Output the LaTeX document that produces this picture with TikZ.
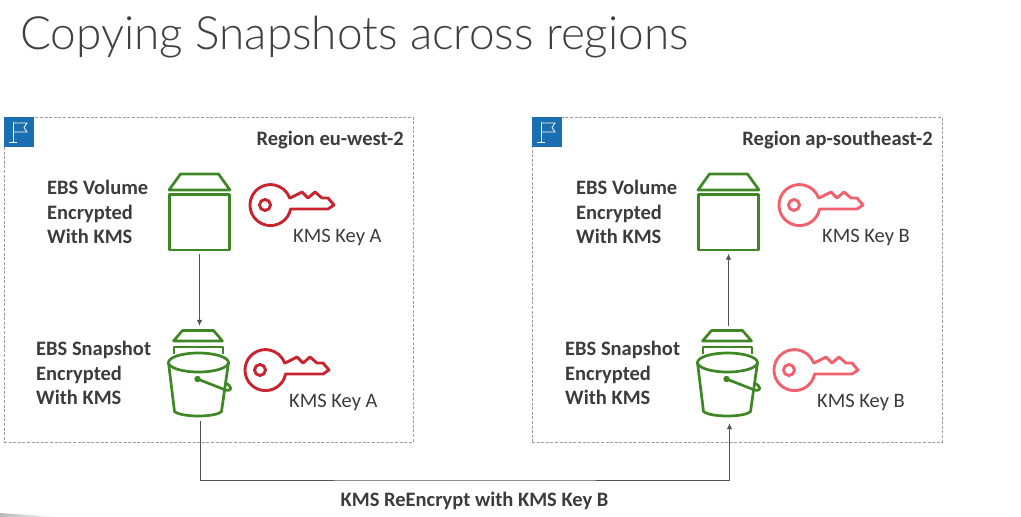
\documentclass[tikz,border=0pt]{standalone}
\usepackage{fontspec}
\setmainfont{Carlito}
\newfontfamily\titlefont{Lato Light}
\usetikzlibrary{arrows.meta}
\definecolor{txt}{HTML}{3C3C3C}
\definecolor{awsgreen}{HTML}{3F8624}
\definecolor{keyred}{HTML}{C7242F}
\definecolor{keypink}{HTML}{F0616D}
\definecolor{flagblue}{HTML}{1A6FB0}
\tikzset{
  regionbox/.style={draw=black!38,dashed,dash pattern=on 3pt off 1.6pt,line width=0.8pt,fill=white,inner sep=0pt},
  flagbox/.style={fill=flagblue,inner sep=0pt,minimum width=30pt,minimum height=30pt},
  iconbox/.style={inner sep=0pt,minimum width=62pt},
  lbl/.style={font=\fontsize{20.5}{24.5}\selectfont,text=txt,inner sep=0pt},
  blbl/.style={lbl,font=\fontsize{20.5}{24.5}\selectfont\bfseries,align=left},
  conn/.style={draw=black!68,line width=0.8pt,-{Latex[length=6pt,width=5.5pt]}},
  flagpic/.pic={
    \draw[white,line width=0.7pt] (-6,-10)--(-6,10) (-10,10)--(-2,10);
    \draw[white,line width=0.7pt] (-6,-9)--(8,-9)--(5,-4.5)--(8,0)--(-6,0);
  },
  keypic/.pic={
    \draw[line width=2.9pt,line join=round,pic actions]
      (25.6,4) arc[start angle=11,end angle=340,radius=20.5]
      -- (25,-7)--(37,-13)--(43,-7)--(50,-13)--(57,-7)--(63,-7)--(69,0)--(63,4)--cycle;
    \draw[line width=2.9pt,pic actions] (0,0) circle[radius=5.5];
  },
  volpic/.pic={
    \draw[awsgreen,line width=2.7pt,line join=round]
      (-30.5,-22)--(-19,-38)--(19,-38)--(30.5,-22)--cycle;
    \draw[awsgreen,line width=2.7pt,line join=round] (-30,-17.5) rectangle (30,38);
  },
  snappic/.pic={
    \draw[awsgreen,line width=2.7pt,line join=round]
      (-26,-32.5)--(-17,-43)--(14,-43)--(23,-32.5)--cycle;
    \draw[awsgreen,line width=2.7pt,line join=round]
      (-25.5,-20)--(-25.5,-26.5)--(23.5,-26.5)--(23.5,-20);
    \filldraw[awsgreen,fill=white,line width=2.7pt] (-1,-11) ellipse[x radius=30,y radius=9.5];
    \draw[awsgreen,line width=2.7pt,line join=round]
      (-31,-11)--(-25,38) .. controls (-18,44) and (16,44) .. (22,38)--(29,-11);
    \fill[awsgreen] (-2,5.5) circle[radius=3.2];
    \draw[awsgreen,line width=2.7pt,line join=round]
      (-2,5.5)--(26,16.5) .. controls (33,18) and (33,13) .. (26,9.5);
  }
}
\begin{document}
\begin{tikzpicture}[x=1pt,y=-1pt]
\useasboundingbox (0,0) rectangle (1021,517);
\fill[white] (0,0) rectangle (1021,517);
\shade[left color=black!28,right color=white] (0,513) -- (60,517) -- (0,517) -- cycle;
\node[anchor=base west,inner sep=0pt,text=black!75,font=\titlefont\fontsize{45.9}{50}\selectfont] (title) at (20,49) {Copying Snapshots across regions};

% regions
\node[regionbox,minimum width=409pt,minimum height=325pt] (regA) at (208.5,279.5) {};
\node[regionbox,minimum width=410pt,minimum height=325pt] (regB) at (737,279.5) {};
\node[flagbox] (flagA) at (19,132) {};
\node[flagbox] (flagB) at (547,132) {};
\pic at (flagA.center) {flagpic};
\pic at (flagB.center) {flagpic};
\node[blbl,anchor=base east] (nameA) at (404,145) {Region eu-west-2};
\node[blbl,anchor=base east] (nameB) at (933,145) {Region ap-southeast-2};

% texts
\node[blbl,anchor=west] (tvA) at (47,212) {EBS Volume\\Encrypted\\With KMS};
\node[blbl,anchor=west] (tsA) at (36,373) {EBS Snapshot\\Encrypted\\With KMS};
\node[blbl,anchor=west] (tvB) at (576,212) {EBS Volume\\Encrypted\\With KMS};
\node[blbl,anchor=west] (tsB) at (565,373) {EBS Snapshot\\Encrypted\\With KMS};

% icons
\node[iconbox,minimum height=79pt] (volA) at (199.5,212) {};
\node[iconbox,minimum height=89pt] (snapA) at (199.5,373.5) {};
\node[iconbox,minimum height=79pt] (volB) at (728.5,212) {};
\node[iconbox,minimum height=89pt] (snapB) at (728.5,373.5) {};
\pic at (volA.center) {volpic};
\pic at (volB.center) {volpic};
\pic at (snapA.center) {snappic};
\pic at (snapB.center) {snappic};

\pic[keyred] at (265,205) {keypic};
\pic[keyred] at (260,370) {keypic};
\pic[keypink] at (794,205) {keypic};
\pic[keypink] at (789,370) {keypic};

\node[lbl,anchor=base west] (kA1) at (293,242) {KMS Key A};
\node[lbl,anchor=base west] (kA2) at (289,407) {KMS Key A};
\node[lbl,anchor=base west] (kB1) at (822,242) {KMS Key B};
\node[lbl,anchor=base west] (kB2) at (817,407) {KMS Key B};

% connectors
\draw[conn] ([yshift=-2pt]volA.south) -- ([yshift=3pt]snapA.north);
\draw[conn] ([yshift=3pt]snapB.north) -- ([yshift=-2pt]volB.south);
\coordinate (bend) at (465,480);
\draw[conn] ([yshift=-3pt,xshift=1pt]snapA.south) |- (bend) -| ([yshift=-5pt,xshift=1pt]snapB.south);
\node[blbl,anchor=base] (rekey) at (474.5,506) {KMS ReEncrypt with KMS Key B};
\end{tikzpicture}
\end{document}
